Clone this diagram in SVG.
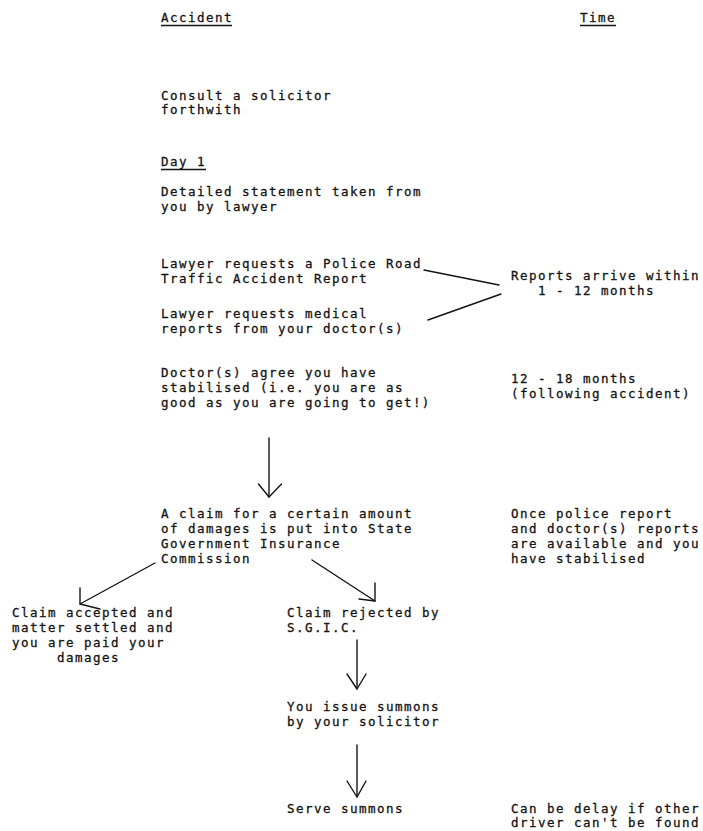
<svg xmlns="http://www.w3.org/2000/svg" width="703" height="831" viewBox="0 0 703 831">
<style>
text{font-family:"DejaVu Sans Mono","Liberation Mono",monospace;font-size:12.5px;letter-spacing:1.47px;fill:#141414;stroke:#141414;stroke-width:0.3px}
.u{stroke:#141414;stroke-width:1.3;fill:none}
.c{stroke:#141414;stroke-width:1.4;fill:none;stroke-linecap:round;stroke-linejoin:round}
</style>
<rect width="703" height="831" fill="#fff"/>
<g id="hdr-accident"><text x="161" y="22">Accident</text><line class="u" x1="161" y1="25.5" x2="232" y2="25.5"/></g>
<g id="hdr-time"><text x="580" y="22">Time</text><line class="u" x1="580" y1="25.5" x2="616" y2="25.5"/></g>
<g id="n-consult"><text x="161" y="100">Consult a solicitor</text><text x="161" y="114">forthwith</text></g>
<g id="n-day1"><text x="161" y="166">Day 1</text><line class="u" x1="161" y1="169.5" x2="206" y2="169.5"/></g>
<g id="n-statement"><text x="161" y="196">Detailed statement taken from</text><text x="161" y="211">you by lawyer</text></g>
<g id="n-police"><text x="161" y="268">Lawyer requests a Police Road</text><text x="161" y="283">Traffic Accident Report</text></g>
<g id="t-reports"><text x="511" y="280">Reports arrive within</text><text x="538" y="295">1 - 12 months</text></g>
<g id="n-medical"><text x="161" y="318">Lawyer requests medical</text><text x="161" y="333">reports from your doctor(s)</text></g>
<g id="n-stabilised"><text x="161" y="377">Doctor(s) agree you have</text><text x="161" y="392">stabilised (i.e. you are as</text><text x="161" y="407">good as you are going to get!)</text></g>
<g id="t-months"><text x="511" y="383">12 - 18 months</text><text x="511" y="398">(following accident)</text></g>
<g id="n-claim"><text x="161" y="518">A claim for a certain amount</text><text x="161" y="533">of damages is put into State</text><text x="161" y="548">Government Insurance</text><text x="161" y="563">Commission</text></g>
<g id="t-once"><text x="511" y="518">Once police report</text><text x="511" y="533">and doctor(s) reports</text><text x="511" y="548">are available and you</text><text x="511" y="563">have stabilised</text></g>
<g id="n-accepted"><text x="12" y="617">Claim accepted and</text><text x="12" y="632">matter settled and</text><text x="12" y="647">you are paid your</text><text x="57" y="662">damages</text></g>
<g id="n-rejected"><text x="287" y="617">Claim rejected by</text><text x="287" y="632">S.G.I.C.</text></g>
<g id="n-summons"><text x="287" y="711">You issue summons</text><text x="287" y="726">by your solicitor</text></g>
<g id="n-serve"><text x="287" y="813">Serve summons</text></g>
<g id="t-delay"><text x="511" y="813">Can be delay if other</text><text x="511" y="827">driver can't be found</text></g>
<g id="connectors">
<line class="c" x1="424" y1="270" x2="499" y2="285"/>
<line class="c" x1="501" y1="294" x2="428" y2="320"/>
<line class="c" x1="269" y1="438" x2="269" y2="497"/>
<polyline class="c" points="258.5,484 269,497 281.5,484"/>
<line class="c" x1="155" y1="563" x2="80" y2="604"/>
<polyline class="c" points="80,588 80,604 100,609"/>
<line class="c" x1="312" y1="560" x2="375" y2="601"/>
<polyline class="c" points="375,583 375,601 359,599"/>
<line class="c" x1="357" y1="640" x2="357" y2="689"/>
<polyline class="c" points="347,674 357,689 366,674"/>
<line class="c" x1="357" y1="745" x2="357" y2="797"/>
<polyline class="c" points="347,781 357,797 366,781"/>
</g>
</svg>
